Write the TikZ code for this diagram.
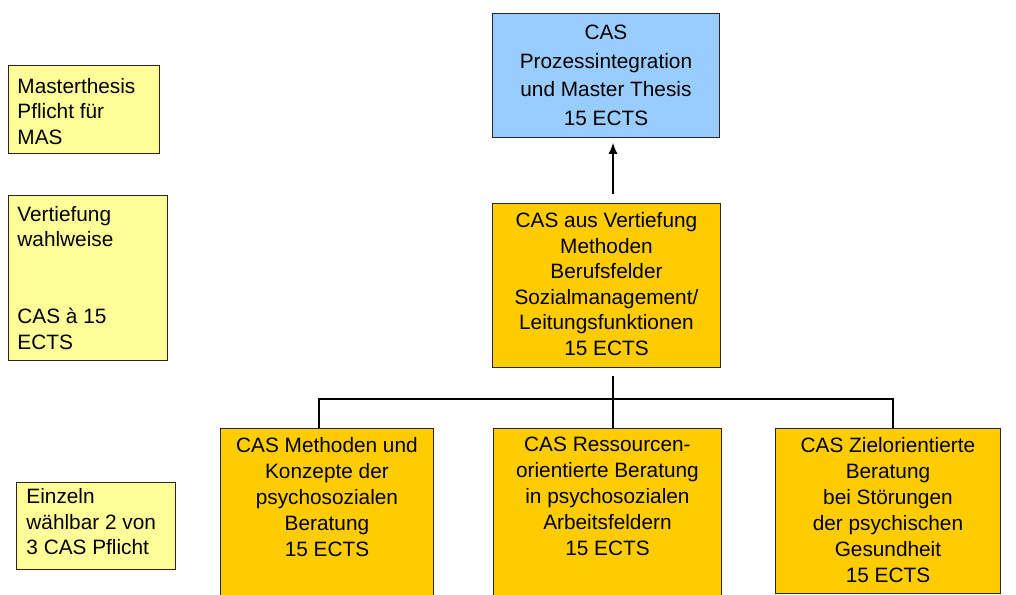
\documentclass[tikz,border=0pt]{standalone}
\usepackage{fontspec}
\setmainfont{Liberation Sans}
\usepackage{tikz}
\usetikzlibrary{positioning}
\usetikzlibrary{calc}
\usetikzlibrary{arrows.meta}
\definecolor{casblue}{HTML}{99CCFF}
\definecolor{casorange}{HTML}{FFCC00}
\definecolor{noteyellow}{HTML}{FFFF99}
% width, height, alignment, top gap, lines
\newcommand{\boxlines}[5]{\parbox[c][#2][t]{#1}{#3\vspace*{#4}#5\par}}

\begin{document}
\begin{tikzpicture}[x=1pt,y=-1pt,
every node/.style={inner sep=0pt, anchor=north west, font=\fontsize{20.8}{25.6}\selectfont},
casbox/.style={draw=black!85, line width=0.9pt},
notebox/.style={draw=black!85, line width=0.9pt, fill=noteyellow},
tree/.style={line width=1.7pt, black}]

\useasboundingbox (0,0) rectangle (1016,594);

% notes on the left
\node (notemas) [notebox] at (8,65)
  {\boxlines{151pt}{88pt}{\raggedright\leftskip=9pt}{12.5pt}{Masterthesis\\Pflicht für\\MAS}};
\node (notedeep) [notebox] at (8,195)
  {\boxlines{159pt}{165pt}{\raggedright\leftskip=9pt}{10.5pt}{Vertiefung\\wahlweise\\[2\baselineskip]CAS à 15\\ECTS}};
\node (notesingle) [notebox] at (16,482)
  {\boxlines{159pt}{87pt}{\raggedright\leftskip=10pt}{6pt}{Einzeln\\wählbar 2 von\\3 CAS Pflicht}};

% modules
\node (thesis) [casbox, fill=casblue, font=\fontsize{20.8}{28.7}\selectfont] at (492,13)
  {\boxlines{227pt}{124pt}{\centering}{11.5pt}{CAS\\Prozessintegration\\und Master Thesis\\15 ECTS}};
\node (deep) [casbox, fill=casorange] at (492,203)
  {\boxlines{228pt}{164pt}{\centering}{9pt}{CAS aus Vertiefung\\Methoden\\Berufsfelder\\Sozialmanagement/\\Leitungsfunktionen\\15 ECTS}};

\node (methods) [casbox, fill=casorange, font=\fontsize{20.8}{26}\selectfont] at (220,428)
  {\boxlines{213pt}{180pt}{\centering}{9pt}{CAS Methoden und\\Konzepte der\\psychosozialen\\Beratung\\15 ECTS}};
\node (resources) [casbox, fill=casorange, font=\fontsize{20.8}{26}\selectfont] at (493,428)
  {\boxlines{228pt}{180pt}{\centering}{9pt}{CAS Ressourcen-\\orientierte Beratung\\in psychosozialen\\Arbeitsfeldern\\15 ECTS}};
\node (goals) [casbox, fill=casorange, font=\fontsize{20.8}{26}\selectfont] at (775,428)
  {\boxlines{225pt}{165pt}{\centering}{9pt}{CAS Zielorientierte\\Beratung\\bei Störungen\\der psychischen\\Gesundheit\\15 ECTS}};

% connectors
\coordinate (up) at (613,194);
\draw [-{Latex[length=11pt,width=9pt]}, line width=1.2pt, shorten >=5pt] (up) -- (up |- thesis.south);

\coordinate (fork) at (613,376);
\coordinate (barl) at (319,399);
\coordinate (barr) at (893,399);
\draw [tree] (fork) -- (resources.north -| fork);
\draw [tree] (methods.north -| barl) -- (barl) -- (barr) -- (goals.north -| barr);

\end{tikzpicture}
\end{document}
